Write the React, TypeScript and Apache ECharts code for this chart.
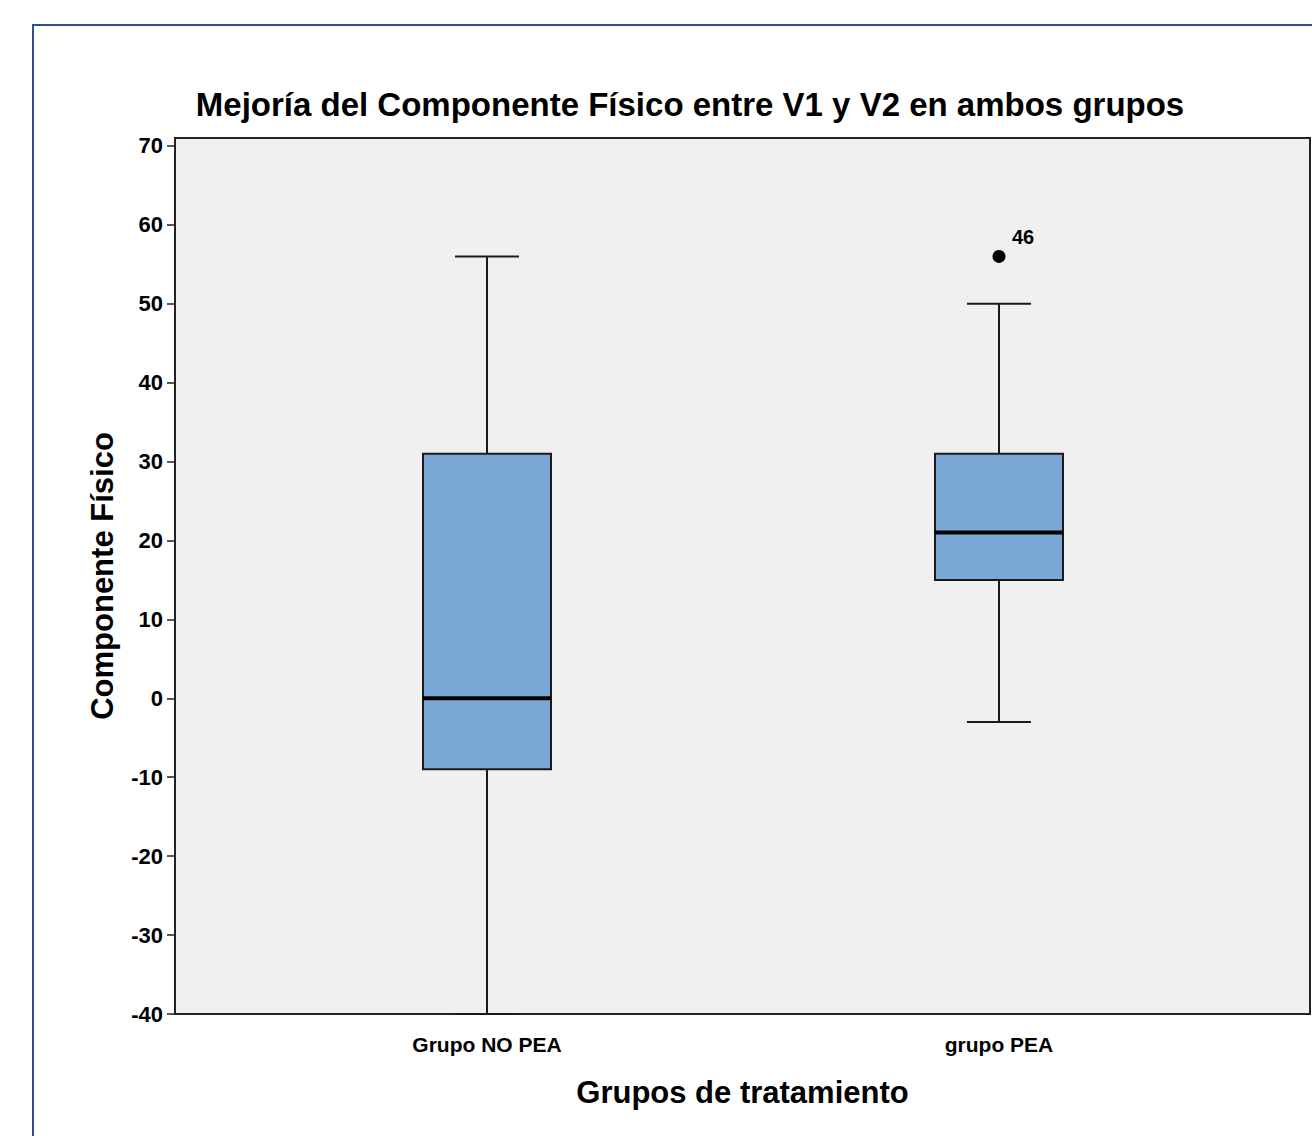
import React, { useEffect, useRef } from "react";
import * as echarts from "echarts";

const titleText = "Mejoría del Componente Físico entre V1 y V2 en ambos grupos";
const categories = ["Grupo NO PEA", "grupo PEA"];
// [min whisker, Q1, median, Q3, max whisker]
const mins = [-40, -3];
const q1s = [-9, 15];
const medians = [0, 21];
const q3s = [31, 31];
const maxs = [56, 50];
const outlierValues = [56];
const outlierCats = [1];
const outlierLabels = ["46"];
const yTicks = [-40, -30, -20, -10, 0, 10, 20, 30, 40, 50, 60, 70];
const yMin = -40;
const yMax = 71;

const FONT = "'Liberation Sans', Arial, sans-serif";

export default function App() {
  const ref = useRef<HTMLDivElement>(null);
  useEffect(() => {
    document.body.style.margin = "0";
    if (!ref.current) return;
    const chart = echarts.init(ref.current, null, { renderer: "svg" });
    const boxData = categories.map((_, i) => [i, mins[i], q1s[i], medians[i], q3s[i], maxs[i]]);
    const outliers = outlierValues.map((v, i) => ({
      value: [outlierCats[i], v],
      label: { formatter: outlierLabels[i] },
    }));
    const option: any = {
      animation: false,
      backgroundColor: "#ffffff",
      title: {
        text: titleText,
        left: 685,
        top: 83,
        textAlign: "center",
        textStyle: { fontFamily: FONT, fontWeight: "bold", fontSize: 33, color: "#000" },
      },
      graphic: [
        {
          type: "rect",
          shape: { x: 33, y: 25, width: 1400, height: 1300 },
          style: { fill: "none", stroke: "#2e4f8f", lineWidth: 2 },
          silent: true,
        },
      ],
      grid: [
        {
          left: 175,
          top: 138,
          right: 2,
          bottom: 122,
          show: true,
          backgroundColor: "#f0f0f0",
          borderColor: "#222",
          borderWidth: 2,
          z: 0,
        },
        { left: 231, width: 1024, top: 138, bottom: 122 },
      ],
      xAxis: [
        {
          type: "value",
          gridIndex: 0,
          min: 0,
          max: 1,
          axisLine: { show: false },
          axisTick: { show: false },
          axisLabel: { show: false },
          splitLine: { show: false },
          name: "Grupos de tratamiento",
          nameLocation: "middle",
          nameGap: 63,
          nameTextStyle: { fontFamily: FONT, fontWeight: "bold", fontSize: 31, color: "#000" },
        },
        {
          type: "category",
          gridIndex: 1,
          data: categories,
          axisLine: { show: false },
          axisTick: { show: true, alignWithLabel: true, length: 9, lineStyle: { color: "#222", width: 1.5 } },
          axisLabel: { fontFamily: FONT, fontWeight: "bold", fontSize: 21, color: "#000", margin: 20 },
          splitLine: { show: false },
        },
      ],
      yAxis: [
        {
          type: "value",
          gridIndex: 0,
          min: yMin,
          max: yMax,
          interval: 10,
          axisLine: { show: true, lineStyle: { color: "#222", width: 2 } },
          axisTick: { show: true, length: 8, customValues: yTicks, lineStyle: { color: "#222", width: 1.5 } },
          axisLabel: { fontFamily: FONT, fontWeight: "bold", fontSize: 22, color: "#000", margin: 12, customValues: yTicks },
          splitLine: { show: false },
          name: "Componente Físico",
          nameLocation: "middle",
          nameGap: 57,
          nameTextStyle: { fontFamily: FONT, fontWeight: "bold", fontSize: 31, color: "#000" },
        },
        {
          type: "value",
          gridIndex: 1,
          min: yMin,
          max: yMax,
          show: false,
        },
      ],
      series: [
        {
          type: "custom",
          xAxisIndex: 1,
          yAxisIndex: 1,
          data: boxData,
          encode: { x: 0, y: [1, 2, 3, 4, 5] },
          clip: false,
          z: 5,
          renderItem: (params: any, api: any) => {
            const xi = api.value(0);
            const pMin = api.coord([xi, api.value(1)]);
            const pQ1 = api.coord([xi, api.value(2)]);
            const pMed = api.coord([xi, api.value(3)]);
            const pQ3 = api.coord([xi, api.value(4)]);
            const pMax = api.coord([xi, api.value(5)]);
            const band = api.size([1, 0])[0];
            const bw = band * 0.25;
            const cw = bw / 2;
            const x = pMed[0];
            const lineStyle = { stroke: "#1a1a1a", lineWidth: 2 };
            return {
              type: "group",
              children: [
                { type: "line", shape: { x1: x, y1: pMax[1], x2: x, y2: pQ3[1] }, style: lineStyle },
                { type: "line", shape: { x1: x, y1: pQ1[1], x2: x, y2: pMin[1] }, style: lineStyle },
                { type: "line", shape: { x1: x - cw / 2, y1: pMax[1], x2: x + cw / 2, y2: pMax[1] }, style: lineStyle },
                { type: "line", shape: { x1: x - cw / 2, y1: pMin[1], x2: x + cw / 2, y2: pMin[1] }, style: lineStyle },
                {
                  type: "rect",
                  shape: { x: x - bw / 2, y: pQ3[1], width: bw, height: pQ1[1] - pQ3[1] },
                  style: { fill: "#7aa8d6", stroke: "#1a1a1a", lineWidth: 2 },
                },
                { type: "line", shape: { x1: x - bw / 2, y1: pMed[1], x2: x + bw / 2, y2: pMed[1] }, style: { stroke: "#000", lineWidth: 4 } },
              ],
            };
          },
        },
        {
          type: "scatter",
          xAxisIndex: 1,
          yAxisIndex: 1,
          data: outliers,
          symbol: "circle",
          symbolSize: 13,
          itemStyle: { color: "#000", opacity: 1 },
          z: 6,
          label: {
            show: true,
            position: "top",
            offset: [24, 2],
            fontFamily: FONT,
            fontWeight: "bold",
            fontSize: 20,
            color: "#000",
          },
        },
      ],
    };
    chart.setOption(option);
    return () => chart.dispose();
  }, []);
  return <div ref={ref} style={{ width: 1312, height: 1136 }} />;
}
